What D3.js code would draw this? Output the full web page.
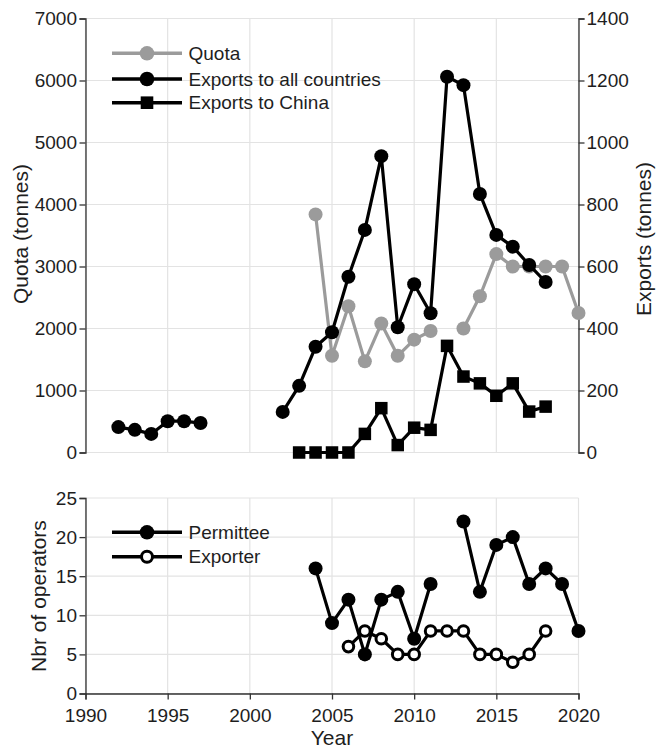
<!DOCTYPE html>
<html><head><meta charset="utf-8">
<script src="https://cdn.jsdelivr.net/npm/d3@7"></script>
<style>
html,body{margin:0;padding:0;background:#fff;}
svg{display:block;font-family:"Liberation Sans",Arial,sans-serif;}
</style></head>
<body><svg id="c" width="657" height="748"></svg>
<script>
// ---- data ----
const quotaYears   = [2004,2005,2006,2007,2008,2009,2010,2011,2013,2014,2015,2016,2017,2018,2019,2020];
const quotaValues  = [3840,1560,2360,1470,2080,1560,1820,1960,2000,2520,3200,3000,3000,3000,3000,2250];
const exportYears  = [1992,1993,1994,1995,1996,1997,2002,2003,2004,2005,2006,2007,2008,2009,2010,2011,2012,2013,2014,2015,2016,2017,2018];
const exportAll    = [82,73,60,101,101,95,131,215,341,388,567,718,956,404,543,449,1212,1185,834,702,664,605,550];
const chinaYears   = [2003,2004,2005,2006,2007,2008,2009,2010,2011,2012,2013,2014,2015,2016,2017,2018];
const chinaValues  = [0,0,0,0,60,143,24,80,73,344,245,223,183,223,132,148];
const permitYears  = [2004,2005,2006,2007,2008,2009,2010,2011,2013,2014,2015,2016,2017,2018,2019,2020];
const permitValues = [16,9,12,5,12,13,7,14,22,13,19,20,14,16,14,8];
const exporterYears  = [2006,2007,2008,2009,2010,2011,2012,2013,2014,2015,2016,2017,2018];
const exporterValues = [6,8,7,5,5,8,8,8,5,5,4,5,8];
const xTicks = [1990,1995,2000,2005,2010,2015,2020];
const quotaTicks = [0,1000,2000,3000,4000,5000,6000,7000];
const exportTicks = [0,200,400,600,800,1000,1200,1400];
const operTicks = [0,5,10,15,20,25];
const legendTop = ["Quota","Exports to all countries","Exports to China"];
const legendBottom = ["Permittee","Exporter"];

// ---- layout ----
const svg = d3.select("#c");
const X0 = 85.5, X1 = 578.5;
const TOP0 = 452.5, TOP1 = 18.5;
const BOT0 = 693.5, BOT1 = 498;
const gridC = "#e3e3e3", axisC = "#333", txtC = "#1e1e1e", grayC = "#9b9b9b";
const tickFont = 19, titleFont = 21;

const x = d3.scaleLinear().domain([1990,2020]).range([X0,X1]);
const yQ = d3.scaleLinear().domain([0,7000]).range([TOP0,TOP1]);
const yE = d3.scaleLinear().domain([0,1400]).range([TOP0,TOP1]);
const yO = d3.scaleLinear().domain([0,25]).range([BOT0,BOT1]);

function zip(ys, vs){ return ys.map((y,i)=>({year:y, v:vs[i]})); }
// break lines where years are not consecutive
function segments(arr){
  const out=[]; let cur=[];
  arr.forEach((d,i)=>{ if(i>0 && d.year-arr[i-1].year>1){ out.push(cur); cur=[]; } cur.push(d); });
  out.push(cur); return out;
}

// grid
function grid(yScale, ticks){
  const g = svg.append("g");
  g.selectAll("line.h").data(ticks).join("line")
    .attr("x1",X0).attr("x2",X1).attr("y1",d=>yScale(d)).attr("y2",d=>yScale(d))
    .attr("stroke",gridC).attr("stroke-width",1.2);
  g.selectAll("line.v").data(xTicks).join("line")
    .attr("x1",d=>x(d)).attr("x2",d=>x(d)).attr("y1",yScale.range()[0]).attr("y2",yScale.range()[1])
    .attr("stroke",gridC).attr("stroke-width",1.2);
}
grid(yQ, quotaTicks);
grid(yO, operTicks);

function styleAxis(g){
  g.selectAll("path.domain").attr("stroke",axisC).attr("stroke-width",1.3);
  g.selectAll(".tick line").attr("stroke",axisC).attr("stroke-width",1.3);
  g.selectAll(".tick text").attr("fill",txtC).style("font-size",tickFont+"px")
    .style("font-family",'"Liberation Sans",Arial,sans-serif');
}
// axes
svg.append("g").attr("transform",`translate(${X0},0)`)
  .call(d3.axisLeft(yQ).tickValues(quotaTicks).tickFormat(d3.format("d")).tickSizeOuter(0).tickSize(6).tickPadding(2.5))
  .call(styleAxis);
svg.append("g").attr("transform",`translate(${X1},0)`)
  .call(d3.axisRight(yE).tickValues(exportTicks).tickFormat(d3.format("d")).tickSizeOuter(0).tickSize(6).tickPadding(2))
  .call(styleAxis);
svg.append("g").attr("transform",`translate(${X0},0)`)
  .call(d3.axisLeft(yO).tickValues(operTicks).tickFormat(d3.format("d")).tickSizeOuter(0).tickSize(6).tickPadding(2.5))
  .call(styleAxis);
svg.append("g").attr("transform",`translate(0,${BOT0})`)
  .call(d3.axisBottom(x).tickValues(xTicks).tickFormat(d3.format("d")).tickSizeOuter(0).tickSize(6).tickPadding(9.5))
  .call(styleAxis);

// titles
function title(txt, tx, ty, rot){
  svg.append("text").attr("transform",`translate(${tx},${ty}) rotate(${rot})`)
    .attr("text-anchor","middle").attr("fill",txtC).style("font-size",titleFont+"px").text(txt);
}
title("Quota (tonnes)", 28, 234, -90);
title("Exports (tonnes)", 651, 239, -90);
title("Nbr of operators", 46, 596, -90);
title("Year", (X0+X1)/2, 745, 0);

// series drawing
function drawLine(data, yScale, color){
  const line = d3.line().x(d=>x(d.year)).y(d=>yScale(d.v));
  svg.append("g").selectAll("path").data(segments(data)).join("path")
    .attr("d",line).attr("fill","none").attr("stroke",color).attr("stroke-width",3.2)
    .attr("stroke-linejoin","round");
}
function drawCircles(data, yScale, fill, stroke, r, sw){
  svg.append("g").selectAll("circle").data(data).join("circle")
    .attr("cx",d=>x(d.year)).attr("cy",d=>yScale(d.v)).attr("r",r)
    .attr("fill",fill).attr("stroke",stroke).attr("stroke-width",sw);
}
function drawSquares(data, yScale, s){
  svg.append("g").selectAll("rect").data(data).join("rect")
    .attr("x",d=>x(d.year)-s/2).attr("y",d=>yScale(d.v)-s/2).attr("width",s).attr("height",s)
    .attr("fill","#000");
}

const quota = zip(quotaYears, quotaValues);
const expAll = zip(exportYears, exportAll);
const china = zip(chinaYears, chinaValues);
const permit = zip(permitYears, permitValues);
const exporter = zip(exporterYears, exporterValues);

drawLine(quota, yQ, grayC); drawCircles(quota, yQ, grayC, "none", 7, 0);
drawLine(expAll, yE, "#000"); drawCircles(expAll, yE, "#000", "none", 7, 0);
drawLine(china, yE, "#000"); drawSquares(china, yE, 12.5);

drawLine(permit, yO, "#000"); drawCircles(permit, yO, "#000", "none", 7, 0);
drawLine(exporter, yO, "#000"); drawCircles(exporter, yO, "#fff", "#000", 5.3, 3);

// legends
function legendRow(y, label, color, marker){
  const g = svg.append("g");
  g.append("line").attr("x1",112).attr("x2",182).attr("y1",y).attr("y2",y)
    .attr("stroke",color).attr("stroke-width",3.5);
  if(marker==="circle") g.append("circle").attr("cx",147).attr("cy",y).attr("r",7.3).attr("fill",color);
  if(marker==="square") g.append("rect").attr("x",147-6.3).attr("y",y-6.3).attr("width",12.6).attr("height",12.6).attr("fill",color);
  if(marker==="open") g.append("circle").attr("cx",147).attr("cy",y).attr("r",5.5).attr("fill","#fff").attr("stroke","#000").attr("stroke-width",3);
  g.append("text").attr("x",188.5).attr("y",y).attr("dy","0.35em").attr("fill",txtC)
    .style("font-size",tickFont+"px").text(label);
}
legendRow(53.3, legendTop[0], grayC, "circle");
legendRow(79, legendTop[1], "#000", "circle");
legendRow(102.7, legendTop[2], "#000", "square");
legendRow(532.3, legendBottom[0], "#000", "circle");
legendRow(556.7, legendBottom[1], "#000", "open");
</script></body></html>
